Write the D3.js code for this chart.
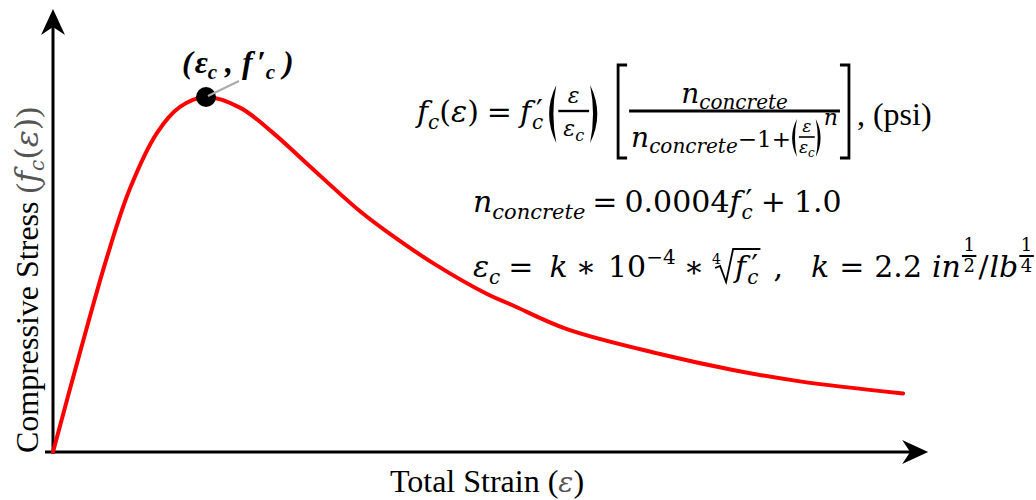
<!DOCTYPE html>
<html>
<head>
<meta charset="utf-8">
<script src="https://cdn.jsdelivr.net/npm/d3@7"></script>
<style>
  body { margin: 0; background: #fff; }
</style>
</head>
<body>
<div id="chart"></div>
<script>
// strain / peak strain and stress / peak stress
const strainRatio = [0, 0.176, 0.353, 0.503, 0.68, 0.83, 1.0, 1.222, 1.438, 1.66, 2.007, 2.2, 2.484, 2.837, 3.0, 3.359, 3.967, 4.444, 4.882, 5.556];
const stressRatio = [0, 0.28, 0.549, 0.742, 0.899, 0.972, 1.0, 0.970, 0.899, 0.812, 0.678, 0.615, 0.532, 0.445, 0.414, 0.346, 0.276, 0.231, 0.199, 0.165];
const peakPoint = [1.0, 1.0];
const axisEnds = [5.72, 1.248]; // where the arrow tips land, in data units

const width = 1036;
const height = 500;
const MATH = "'DejaVu Serif', serif";
const TIMES = "'Liberation Serif', 'Times New Roman', serif";

const svg = d3.select('#chart')
    .append('svg')
    .attr('width', width)
    .attr('height', height);

svg.append('rect').attr('width', width).attr('height', height).attr('fill', '#fff');

const xScale = d3.scaleLinear().domain([0, 6]).range([53, 971]);
const yScale = d3.scaleLinear().domain([0, 1]).range([452, 97]);

// axes: no ticks, just arrows
const x0 = xScale(0), y0 = yScale(0);
const xTip = xScale(axisEnds[0]), yTip = yScale(axisEnds[1]);

svg.append('line')
    .attr('x1', x0 - 8).attr('x2', xTip - 14)
    .attr('y1', y0).attr('y2', y0)
    .attr('stroke', '#000').attr('stroke-width', 3);
svg.append('path')
    .attr('d', `M${xTip},${y0} L${xTip - 26},${y0 - 12} L${xTip - 18},${y0} L${xTip - 26},${y0 + 12} Z`)
    .attr('fill', '#000');

svg.append('line')
    .attr('x1', x0).attr('x2', x0)
    .attr('y1', y0 + 2).attr('y2', yTip + 14)
    .attr('stroke', '#000').attr('stroke-width', 3);
svg.append('path')
    .attr('d', `M${x0},${yTip} L${x0 - 12},${yTip + 26} L${x0},${yTip + 18} L${x0 + 12},${yTip + 26} Z`)
    .attr('fill', '#000');

// the curve
const curveData = strainRatio.map((d, i) => [d, stressRatio[i]]);
const line = d3.line()
    .x(d => xScale(d[0]))
    .y(d => yScale(d[1]))
    .curve(d3.curveCatmullRom.alpha(0.5));

svg.append('path')
    .datum(curveData)
    .attr('d', line)
    .attr('fill', 'none')
    .attr('stroke', '#ff0000')
    .attr('stroke-width', 4)
    .attr('stroke-linecap', 'round');

// peak marker + leader
const px = xScale(peakPoint[0]), py = yScale(peakPoint[1]);
svg.append('circle')
    .attr('cx', px).attr('cy', py).attr('r', 10)
    .attr('fill', '#000');
svg.append('line')
    .attr('x1', px + 2).attr('y1', py - 1)
    .attr('x2', px + 33).attr('y2', py - 16)
    .attr('stroke', '#aaa').attr('stroke-width', 2);

// ---- tiny typesetting helpers ----
function piece(g, x, y, str, o) {
    const t = g.append('text')
        .attr('x', x).attr('y', y)
        .attr('font-family', o.font || MATH)
        .attr('font-size', o.size || 30)
        .attr('font-style', o.it ? 'italic' : 'normal')
        .attr('font-weight', o.bold ? 'bold' : 'normal')
        .attr('fill', o.fill || '#000')
        .text(str);
    return t.node().getComputedTextLength();
}

function seq(g, x, y, items) {
    let cx = x;
    items.forEach(it => {
        if (it.gap) cx += it.gap;
        let w = 0;
        if (it.draw) w = it.draw(g, cx, y);
        else if (it.t) w = piece(g, cx + (it.dx || 0), y + (it.dy || 0), it.t, it);
        if (!it.noAdv) cx += w;
        if (it.after) cx += it.after;
    });
    return cx - x;
}

function frac(num, den, o) {
    return (g, x, y) => {
        const gn = g.append('g'), gd = g.append('g');
        const wn = seq(gn, 0, 0, num);
        const wd = seq(gd, 0, 0, den);
        const w = Math.max(wn, wd) + 2 * (o.pad || 0);
        gn.attr('transform', `translate(${x + (w - wn) / 2},${y + o.numY})`);
        gd.attr('transform', `translate(${x + (w - wd) / 2},${y + o.denY})`);
        g.append('line')
            .attr('x1', x).attr('x2', x + w)
            .attr('y1', y + o.barY).attr('y2', y + o.barY)
            .attr('stroke', '#000').attr('stroke-width', o.bw || 1.6);
        return w;
    };
}

function bracket(side, top, bot) {
    return (g, x, y) => {
        const a = side === 'l' ? x + 11 : x;
        const b = side === 'l' ? x + 2 : x + 9;
        g.append('path')
            .attr('d', `M${a},${y + top} H${b} V${y + bot} H${a}`)
            .attr('fill', 'none').attr('stroke', '#000').attr('stroke-width', 2.8);
        return 13;
    };
}

// crescent-shaped stretchy paren
function paren(side, top, bot, w) {
    return (g, x, y) => {
        const t = y + top, b = y + bot, m = (t + b) / 2;
        const d = side === 'l'
            ? `M${x + w},${t} Q${x - w * 0.6},${m} ${x + w},${b} Q${x + w * 0.35},${m} ${x + w},${t} Z`
            : `M${x},${t} Q${x + w * 1.6},${m} ${x},${b} Q${x + w * 0.65},${m} ${x},${t} Z`;
        g.append('path').attr('d', d).attr('fill', '#000');
        return w + 2;
    };
}

function radical(index, inner) {
    return (g, x, y) => {
        piece(g, x, y - 13, index, { size: 14 });
        const gi = g.append('g');
        const wi = seq(gi, 0, 0, inner);
        const sx = x + 3;
        gi.attr('transform', `translate(${sx + 20},${y})`);
        g.append('path')
            .attr('d', `M${sx},${y - 9} L${sx + 5},${y - 11} L${sx + 11},${y + 5} L${sx + 18},${y - 28} H${sx + 22 + wi}`)
            .attr('fill', 'none').attr('stroke', '#000').attr('stroke-width', 1.8);
        return 24 + wi;
    };
}

const SUB = { size: 20, dy: 7, it: true };
const fPrimeC = [{ t: 'f', it: true }, { t: '′', dx: 5, dy: -1, noAdv: true }, { t: 'c', ...SUB, gap: 1 }];
const f = svg.append('g');

// formula 1
const smallNum = [{ t: 'ε', it: true, size: 22 }];
const smallDen = [{ t: 'ε', it: true, size: 22 }, { t: 'c', it: true, size: 16, dy: 5 }];
seq(f, 417, 122, [
    { t: 'f', it: true }, { t: 'c', ...SUB, gap: 0 }, { t: '(' }, { t: 'ε', it: true }, { t: ')' },
    { t: '=', gap: 8, after: 8 },
    ...fPrimeC,
    { draw: paren('l', -37, 21, 9), gap: 4 },
    { draw: frac(smallNum, smallDen, { numY: -19, denY: 14, barY: -11, pad: 5, bw: 2.4 }) },
    { draw: paren('r', -37, 21, 9), gap: 1 },
    { draw: bracket('l', -57, 36), gap: 15 },
    {
        draw: frac(
            [{ t: 'n', it: true, size: 28 }, { t: 'concrete', it: true, size: 20, dy: 6 }],
            [
                { t: 'n', it: true, size: 28 }, { t: 'concrete', it: true, size: 20, dy: 6 },
                { t: '−1+', size: 23 },
                { draw: paren('l', -28, 10, 6) },
                { draw: frac([{ t: 'ε', it: true, size: 17 }], [{ t: 'ε', it: true, size: 17 }, { t: 'c', it: true, size: 12, dy: 4 }], { numY: -15, denY: 6, barY: -10, bw: 1.6 }) },
                { draw: paren('r', -28, 10, 6), gap: 1 },
                { t: 'n', it: true, size: 22, dy: -22 }
            ],
            { numY: -19, denY: 25, barY: -11, bw: 2.8, pad: 2 })
    },
    { draw: bracket('r', -57, 36) },
    { t: ', (psi)', font: TIMES, size: 32, gap: 4, dy: 3 }
]);

// formula 2
seq(f, 473, 212, [
    { t: 'n', it: true }, { t: 'concrete', it: true, size: 21, dy: 7 },
    { t: '=', gap: 7, after: 7 },
    { t: '0.0004' }, ...fPrimeC,
    { t: '+', gap: 8, after: 8 }, { t: '1.0' }
]);

// formula 3
const supFrac = (d) => frac([{ t: '1', size: 18 }], [{ t: d, size: 18 }], { numY: -26, denY: -5, barY: -21, bw: 2, pad: 1.5 });
seq(f, 473, 277, [
    { t: 'ε', it: true }, { t: 'c', ...SUB },
    { t: '=', gap: 8, after: 16 },
    { t: 'k', it: true }, { t: '∗', gap: 8, after: 12 },
    { t: '10' }, { t: '−4', size: 20, dy: -13 },
    { t: '∗', gap: 8, after: 8 },
    { draw: radical('4', fPrimeC) },
    { t: ',', gap: 14, after: 28 },
    { t: 'k', it: true }, { t: '=', gap: 10, after: 10 }, { t: '2.2' },
    { t: 'in', it: true, gap: 10 }, { draw: supFrac('2'), gap: 1 }, { t: '/', gap: 2 }, { t: 'lb', it: true, gap: 1 }, { draw: supFrac('4'), gap: 1 }
]);

// peak label
const LB = { font: TIMES, size: 32, bold: true, it: true };
seq(f, 182, 73, [
    { t: '(', ...LB },
    { t: 'ε', ...LB, gap: 2 },
    { t: 'c', ...LB, size: 21, dy: 6 },
    { t: ',', ...LB, gap: 8 },
    { t: 'f', ...LB, gap: 9 },
    { t: '′', ...LB, gap: 4 },
    { t: 'c', ...LB, size: 21, dy: 6 },
    { t: ')', ...LB, gap: 8 }
]);

// axis labels
const xl = svg.append('text')
    .attr('x', 487).attr('y', 492)
    .attr('text-anchor', 'middle')
    .attr('font-family', TIMES).attr('font-size', 32);
xl.append('tspan').text('Total Strain (');
xl.append('tspan').attr('font-family', MATH).attr('font-size', 28).attr('font-style', 'italic').attr('fill', '#555').text('ε');
xl.append('tspan').text(')');

const yl = svg.append('text')
    .attr('transform', 'translate(38,280) rotate(-90)')
    .attr('text-anchor', 'middle')
    .attr('font-family', TIMES).attr('font-size', 32);
yl.append('tspan').text('Compressive Stress ');
yl.append('tspan').attr('fill', '#555').text('(');
yl.append('tspan').attr('font-family', MATH).attr('font-style', 'italic').attr('fill', '#555').text('f');
yl.append('tspan').attr('font-family', MATH).attr('font-style', 'italic').attr('fill', '#555').attr('font-size', 20).attr('dy', 6).text('c');
yl.append('tspan').attr('font-family', MATH).attr('fill', '#555').attr('dy', -6).text('(');
yl.append('tspan').attr('font-family', MATH).attr('font-style', 'italic').attr('fill', '#555').text('ε');
yl.append('tspan').attr('font-family', MATH).attr('fill', '#555').text(')');
yl.append('tspan').attr('fill', '#555').text(')');
</script>
</body>
</html>
